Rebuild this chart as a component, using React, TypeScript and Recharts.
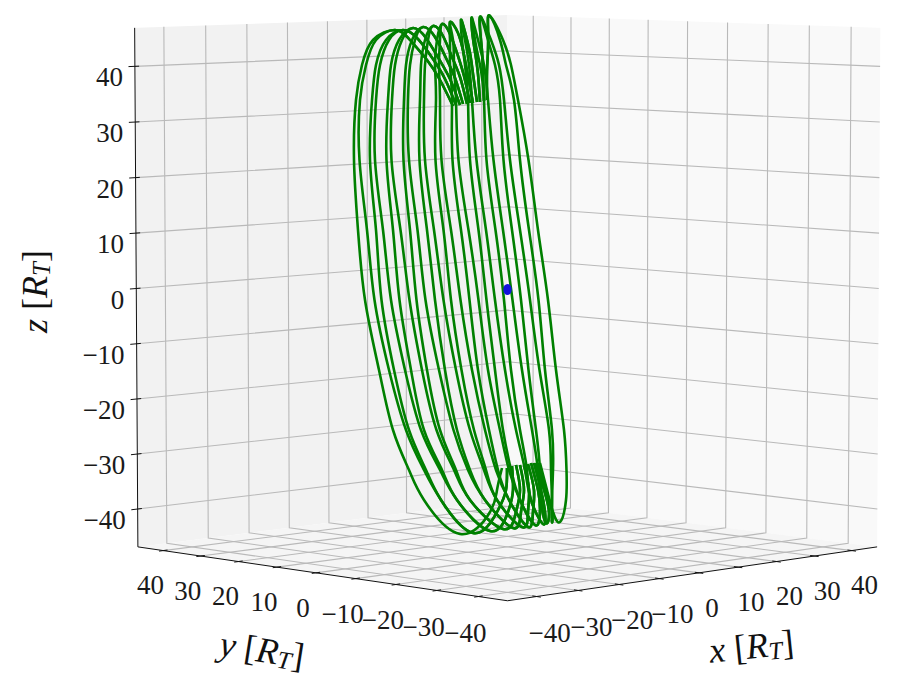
import { ComposedChart, XAxis, YAxis, Area, Line, Scatter, ReferenceDot } from "recharts";

// 3D frame values (R_T)
const LIMIT = 46.9;
const ticks = [-40, -30, -20, -10, 0, 10, 20, 30, 40];

// track, in view-plane units (origin at the blue dot)
// 22 passes between the north and south mirror points, caps are shared by neighbouring passes
const northH = [-10.8, -10.2, -9.4, -8.8, -8, -7.4, -6.8, -6, -5.4, -4.6, -4];
const northV = [36.6, 36.8, 36.8, 37, 37, 37.2, 37.2, 37.4, 37.4, 37.6, 37.8];
const riseAH = [-13.4, -12.4, -11.4, -10.4, -9.4, -8.6, -7.8, -6.8, -5.8, -4.8, -4];
const riseAV = [41.8, 42, 42, 42.2, 42.4, 42.6, 42.6, 43, 43, 43.2, 43.6];
const riseBH = [-16, -14.8, -13.6, -12.2, -11, -9.8, -8.6, -7.4, -6.4, -5, -3.8];
const riseBV = [45.8, 46, 46, 46.2, 46.4, 46.6, 46.8, 47.2, 47.4, 47.6, 47.8];
const riseCH = [-19.4, -17.8, -16.2, -14.4, -12.8, -11.4, -9.8, -8.4, -7, -5.4, -3.8];
const riseCV = [49.8, 50, 50.2, 50.4, 50.6, 51, 51.2, 51.4, 51.8, 52, 52.4];
const peakH = [-22.4, -20.8, -18.8, -16.8, -14.8, -13, -11.4, -9.2, -7, -5.2, -3.4];
const peakV = [51.8, 51.8, 52.2, 52.4, 52.6, 53, 53.4, 53.8, 54.2, 54.4, 54.6];

const strandLevels = [49.8, 44.8, 37.8, 25.8, 11.8, -2.2, -16.2, -28.2, -36.2];
const strandAt50 = [-26.8, -26.2, -24.2, -23.6, -21.6, -21, -19, -18.4, -16.4, -15.8, -14, -13.4, -11.4, -10.8, -9, -8.4, -6.4, -5.8, -3.8, -3.2, -1.4, -0.8];
const strandAt45 = [-29, -28.2, -26.2, -25.4, -23.2, -22.4, -20.2, -19.4, -17.2, -16.4, -14.4, -13.6, -11.4, -10.6, -8.4, -7.6, -5.4, -4.6, -2.4, -1.6, -0.2, 0.8];
const strandAt38 = [-30.2, -29.4, -27, -26.2, -23.8, -23, -20.6, -19.8, -17.4, -16.6, -14.2, -13.4, -11, -10.2, -7.8, -7, -4.6, -3.8, -1.4, -0.6, 1.4, 2.2];
const strandAt26 = [-30.6, -29.5, -27.4, -26.4, -24.1, -23.1, -20.7, -19.6, -17.5, -16.4, -14.3, -13.1, -10.9, -9.7, -7.4, -6.1, -4.1, -2.7, -0.7, 0.6, 2.6, 4.3];
const strandAt12 = [-29.8, -28, -26.2, -24.8, -22.8, -21.3, -19.4, -17.9, -16, -14.6, -12.7, -11.2, -9.2, -7.7, -5.7, -4.2, -2.3, -0.8, 1, 2.6, 4.4, 6.2];
const strandAt0 = [-28.4, -26.5, -25.1, -23.2, -21.5, -19.5, -18.1, -16.3, -14.4, -12.7, -11.2, -9.3, -7.5, -5.7, -4.1, -2.4, -0.6, 1.1, 2.8, 4.6, 6.3, 8.2];
const strandAt16 = [-25.6, -23.6, -22.6, -20.4, -19.2, -17, -16, -13.6, -12.4, -10.2, -9.1, -7, -5.8, -3.8, -2.4, -0.4, 0.8, 3, 4.3, 6.5, 7.6, 9.8];
const strandAt28 = [-22.8, -20.2, -19.6, -17.2, -16.6, -14.1, -13.4, -10.7, -10, -7.4, -6.6, -4.4, -3.6, -1.4, -0.8, 1.8, 2.6, 5, 5.8, 8.4, 9, 11.4];
const strandAt36 = [-19.6, -16.6, -16.2, -13.4, -13, -10.6, -10.2, -7.8, -7.4, -4.6, -4.2, -2.2, -1.8, 0.4, 0.8, 3.6, 4, 6.2, 6.6, 8.8, 9.2, 11.9];
const strandRows = [strandAt50, strandAt45, strandAt38, strandAt26, strandAt12, strandAt0, strandAt16, strandAt28, strandAt36];

const dropLevel = -42.2;
const dropH = [-16.6, -13.2, -10, -7.4, -4.4, -2, 0.4, 2.6, 4.8, 6.8, 9, 11.8];
const lowH = [-9.4, -6.8, -3.4, -0.8, 1.2, 3, 4.2, 5.6, 7.2, 7.8, 9, 10.6];
const lowV = [-49, -48.8, -48.4, -48, -47.8, -47.6, -47.6, -47.2, -47, -46.8, -46.6, -46.6];
const turnLevel = -44.6;
const turnH = [-3.4, -2, 0.2, 1.8, 2.8, 4.2, 5.2, 6.6, 7.6, 8.4, 9, 9.2];
const backLevel = -40.2;
const backH = [-2, -0.2, 1.2, 2.6, 3.4, 4.4, 5.4, 6.2, 6.8, 7.4, 7.8, 8];
const southH = [-1, 0, 1, 1.8, 2.6, 3.4, 4.2, 4.8, 5.4, 5.8, 6.2, 6.6];
const southV = [-35.8, -35.8, -35.4, -35.2, -35.2, -35.2, -35, -34.8, -34.8, -34.8, -34.8, -34.8];

const FONT = "'Liberation Serif', serif";

// matplotlib style perspective: elev 5, azim -135, dist 10 on a unit box
function project(x: number, y: number, z: number) {
  const px = x / LIMIT;
  const py = y / LIMIT;
  const pz = z / LIMIT;
  const s = Math.sin((5 * Math.PI) / 180);
  const c = Math.cos((5 * Math.PI) / 180);
  const q = Math.SQRT1_2;
  const r = q * (px - py);
  const u = q * s * (px + py) + c * pz;
  const w = -q * c * (px + py) + s * pz;
  return { h: 0.1 + (r * 5250) / (20 - w) / 5, v: 0.1 + (u * 5210) / (20 - w) / 5 };
}

const passes = strandAt0.map((_, k) => {
  const j = Math.floor(k / 2);
  const m = Math.floor((k + 1) / 2);
  return [
    { h: northH[j], v: northV[j] },
    { h: riseAH[j], v: riseAV[j] },
    { h: riseBH[j], v: riseBV[j] },
    { h: riseCH[j], v: riseCV[j] },
    { h: peakH[j], v: peakV[j] },
    ...strandLevels.map((v, l) => ({ h: strandRows[l][k], v })),
    { h: dropH[m], v: dropLevel },
    { h: lowH[m], v: lowV[m] },
    { h: turnH[m], v: turnLevel },
    { h: backH[m], v: backLevel },
    { h: southH[m], v: southV[m] },
  ];
});

const L = LIMIT;
const gridLines = [
  ...ticks.map((t) => [project(t, -L, -L), project(t, L, -L), project(t, L, L)]),
  ...ticks.map((t) => [project(-L, t, -L), project(L, t, -L), project(L, t, L)]),
  ...ticks.map((t) => [project(-L, L, t), project(L, L, t), project(L, -L, t)]),
];
const axisLines = [
  [project(-L, L, L), project(-L, L, -L), project(-L, -L, -L), project(L, -L, -L)],
  ...ticks.map((t) => [project(-L - 1.5, L, t), project(-L + 1, L, t)]),
  ...ticks.map((t) => [project(t, -L - 1, -L), project(t, -L + 1, -L)]),
  ...ticks.map((t) => [project(-L - 1, t, -L), project(-L + 1, t, -L)]),
];

function band(a: { h: number; v: number }, b: { h: number; v: number }) {
  return { h: a.h, band: [a.v, b.v] };
}
const leftTop = project(-L, L, L);
const leftLow = project(-L, L, -L);
const backTop = project(L, L, L);
const backLow = project(L, L, -L);
const rightTop = project(L, -L, L);
const rightLow = project(L, -L, -L);
const frontLow = project(-L, -L, -L);

const leftPane = [band(leftTop, leftTop), { h: leftLow.h, band: [leftLow.v, leftTop.v] }, band(backLow, backTop)];
const rightPane = [band(backLow, backTop), { h: rightLow.h, band: [rightLow.v, rightTop.v] }, band(rightTop, rightTop)];
const floorPane = [band(leftLow, leftLow), band(frontLow, backLow), band(rightLow, rightLow)];

const minus = (t: number) => (t < 0 ? `\u2212${-t}` : `${t}`);

const tickText = (label: string, anchor: string) => (p: any) => (
  <text x={p.cx} y={p.cy} textAnchor={anchor} dominantBaseline="central" fontFamily={FONT} fontSize={27} fill="#1a1a1a">
    {label}
  </text>
);

const axisTitle = (name: string, angle: number) => (p: any) => (
  <text
    x={p.cx}
    y={p.cy}
    transform={`rotate(${angle} ${p.cx} ${p.cy})`}
    textAnchor="middle"
    dominantBaseline="central"
    fontFamily={FONT}
    fontSize={36}
    fill="#111"
  >
    <tspan fontStyle="italic">{name}</tspan>
    <tspan> [</tspan>
    <tspan fontStyle="italic">R</tspan>
    <tspan fontStyle="italic" fontSize={25} dy={6}>T</tspan>
    <tspan dy={-6}>]</tspan>
  </text>
);

export default function App() {
  return (
    <div style={{ position: "absolute", left: 0, top: 0, width: 908, height: 691, background: "white" }}>
      <ComposedChart width={908} height={691} margin={{ top: 0, right: 0, bottom: 0, left: 0 }}>
        <XAxis hide type="number" dataKey="h" domain={[-101.4, 80.2]} allowDataOverflow />
        <YAxis hide type="number" domain={[-80.4, 57.8]} allowDataOverflow />
        <Area data={leftPane} dataKey="band" type="linear" fill="#f2f2f2" fillOpacity={1} stroke="none" dot={false} activeDot={false} isAnimationActive={false} />
        <Area data={rightPane} dataKey="band" type="linear" fill="#f9f9f9" fillOpacity={1} stroke="none" dot={false} activeDot={false} isAnimationActive={false} />
        <Area data={floorPane} dataKey="band" type="linear" fill="#f5f5f5" fillOpacity={1} stroke="none" dot={false} activeDot={false} isAnimationActive={false} />
        {gridLines.map((line, i) => (
          <Line key={`g${i}`} data={line} dataKey="v" type="linear" stroke="#b9b9b9" strokeWidth={1.1} dot={false} activeDot={false} isAnimationActive={false} />
        ))}
        {axisLines.map((line, i) => (
          <Line key={`a${i}`} data={line} dataKey="v" type="linear" stroke="#111" strokeWidth={1} dot={false} activeDot={false} isAnimationActive={false} />
        ))}
        {passes.map((pass, i) => (
          <Line key={`p${i}`} data={pass} dataKey="v" type="natural" stroke="#008000" strokeWidth={2.6} dot={false} activeDot={false} isAnimationActive={false} />
        ))}
        <Scatter
          data={[project(0, 0, 0)]}
          dataKey="v"
          isAnimationActive={false}
          shape={(p: any) => <ellipse cx={p.cx} cy={p.cy + 1} rx={4.2} ry={5.6} fill="#1414dc" />}
        />
        {ticks.map((t) => {
          const p = project(t, -L - 3.1, -L - 5.9);
          return <ReferenceDot key={`x${t}`} x={p.h} y={p.v} shape={tickText(minus(t), "middle")} />;
        })}
        {ticks.map((t) => {
          const p = project(-L - 3.1, t, -L - 5.9);
          return <ReferenceDot key={`y${t}`} x={p.h} y={p.v} shape={tickText(minus(t), "middle")} />;
        })}
        {ticks.map((t) => {
          const p = project(-L, L, t);
          return <ReferenceDot key={`z${t}`} x={p.h - 2.4} y={p.v - 2.2} shape={tickText(minus(t), "end")} />;
        })}
        <ReferenceDot x={48.9} y={-71.5} shape={axisTitle("x", -6)} />
        <ReferenceDot x={-49} y={-72.2} shape={axisTitle("y", 9)} />
        <ReferenceDot x={-94.4} y={-0.5} shape={axisTitle("z", -90)} />
      </ComposedChart>
    </div>
  );
}
